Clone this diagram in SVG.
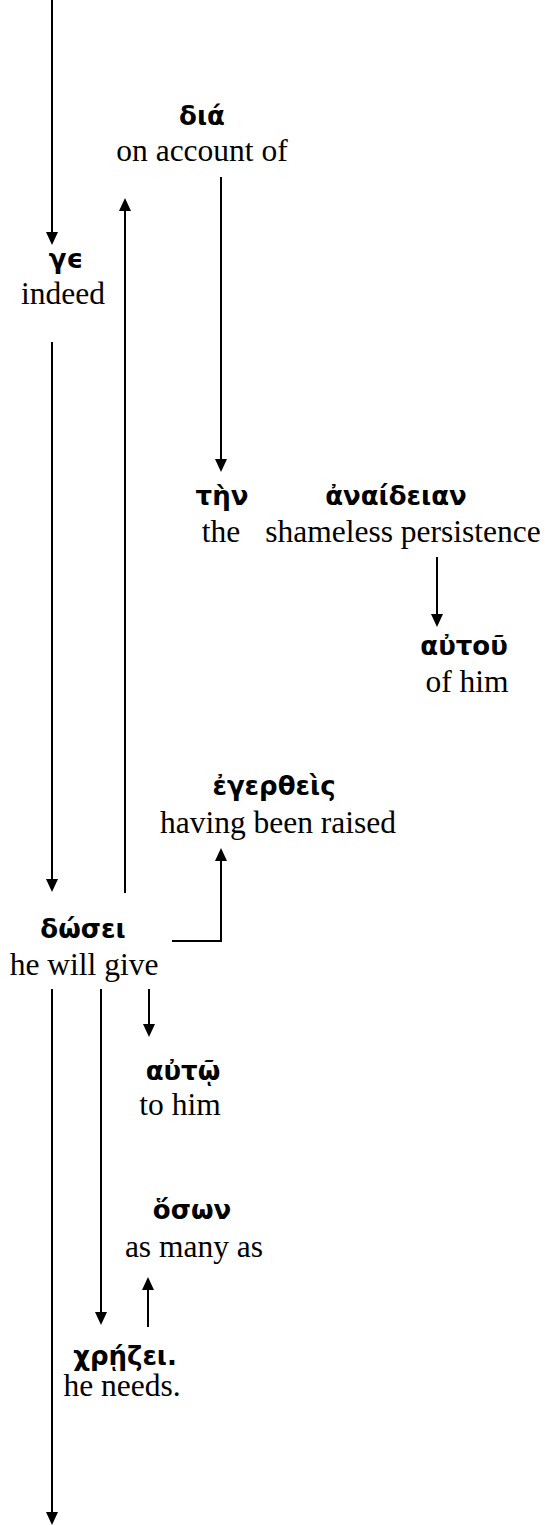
<svg xmlns="http://www.w3.org/2000/svg" width="548" height="1525" viewBox="0 0 548 1525">
<style>
.gk{font-family:"DejaVu Sans","Noto Sans",sans-serif;font-weight:bold;font-size:26px;fill:#000;text-anchor:middle}
.en{font-family:"Liberation Serif","Times New Roman",serif;font-size:31.5px;fill:#000;text-anchor:middle}
.ln{stroke:#000;stroke-width:2;fill:none}
.hd{fill:#000}
</style>
<rect width="548" height="1525" fill="#fff"/>
<g id="connectors">
<line class="ln" x1="52" y1="0" x2="52" y2="233"/>
<path class="hd" d="M46,232 L58,232 L52,245 Z"/>
<line class="ln" x1="52" y1="342" x2="52" y2="880"/>
<path class="hd" d="M46,879 L58,879 L52,892 Z"/>
<line class="ln" x1="125" y1="893" x2="125" y2="210"/>
<path class="hd" d="M119,211 L131,211 L125,198 Z"/>
<line class="ln" x1="221" y1="177" x2="221" y2="460"/>
<path class="hd" d="M215,459 L227,459 L221,472 Z"/>
<line class="ln" x1="437" y1="557" x2="437" y2="615"/>
<path class="hd" d="M431,614 L443,614 L437,627 Z"/>
<polyline class="ln" points="172,941 221,941 221,860"/>
<path class="hd" d="M215,861 L227,861 L221,848 Z"/>
<line class="ln" x1="52" y1="989" x2="52" y2="1513"/>
<path class="hd" d="M46,1512 L58,1512 L52,1525 Z"/>
<line class="ln" x1="101" y1="989" x2="101" y2="1313"/>
<path class="hd" d="M95,1312 L107,1312 L101,1325 Z"/>
<line class="ln" x1="149" y1="989" x2="149" y2="1025"/>
<path class="hd" d="M143,1024 L155,1024 L149,1037 Z"/>
<line class="ln" x1="148" y1="1327" x2="148" y2="1289"/>
<path class="hd" d="M142,1290 L154,1290 L148,1277 Z"/>
</g>
<g id="dia"><text class="gk" x="202" y="125">διά</text><text class="en" x="202" y="161">on account of</text></g>
<g id="ge"><text class="gk" x="66" y="268">γϵ</text><text class="en" x="63" y="304">indeed</text></g>
<g id="ten"><text class="gk" x="222" y="505">τὴν</text><text class="en" x="221" y="542">the</text></g>
<g id="anaideian"><text class="gk" x="396" y="505">ἀναίδειαν</text><text class="en" x="403" y="542">shameless persistence</text></g>
<g id="autou"><text class="gk" x="464" y="655">αὐτοῦ</text><text class="en" x="467" y="692">of him</text></g>
<g id="egertheis"><text class="gk" x="274" y="795">ἐγερθεὶς</text><text class="en" x="278" y="833">having been raised</text></g>
<g id="dosei"><text class="gk" x="83" y="938">δώσει</text><text class="en" x="84" y="975">he will give</text></g>
<g id="auto"><text class="gk" x="183" y="1080">αὐτῷ</text><text class="en" x="180" y="1115">to him</text></g>
<g id="oson"><text class="gk" x="192" y="1219">ὅσων</text><text class="en" x="194" y="1257">as many as</text></g>
<g id="chrezei"><text class="gk" x="125" y="1365">χρῄζει.</text><text class="en" x="122" y="1396">he needs.</text></g>
</svg>
